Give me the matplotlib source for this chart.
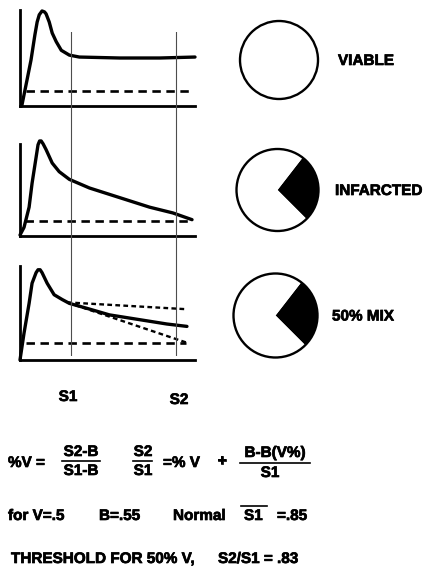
import matplotlib.pyplot as plt
import matplotlib.patheffects as pe
from matplotlib.patches import Circle

plt.rcParams['font.family'] = ['Liberation Sans', 'DejaVu Sans']
plt.rcParams['font.weight'] = 'bold'

# time of the two samples
S1_T = 2.9
S2_T = 8.9

# time-activity curves (time, signal); signal 0 = baseline, 1 = peak
viable_t = [0.1, 0.4, 0.63, 0.85, 0.98, 1.1, 1.26, 1.4, 1.49, 1.67, 1.84, 2.07, 2.36, 2.82, 3.39, 5.7, 8.0, 10.0]
viable_v = [0.0, 0.27, 0.48, 0.74, 0.875, 0.95, 0.99, 0.98, 0.96, 0.875, 0.76, 0.67, 0.58, 0.53, 0.51, 0.50, 0.50, 0.51]
viable_bg_t = [0.34, 9.9]
viable_bg_v = [0.16, 0.16]

infarct_t = [0.0, 0.23, 0.52, 0.69, 0.92, 1.03, 1.12, 1.21, 1.32, 1.49, 1.84, 2.24, 2.82, 3.97, 5.69, 7.41, 8.74, 9.83]
infarct_v = [0.01, 0.09, 0.30, 0.55, 0.82, 0.95, 0.99, 0.99, 0.96, 0.90, 0.76, 0.67, 0.59, 0.50, 0.40, 0.30, 0.24, 0.17]
infarct_bg_t = [0.29, 9.7]
infarct_bg_v = [0.16, 0.16]

mix_t = [0.0, 0.23, 0.52, 0.69, 0.92, 1.03, 1.15, 1.26, 1.55, 1.95, 2.41, 2.82, 3.79, 5.11, 6.84, 8.39, 9.54]
mix_v = [0.0, 0.28, 0.59, 0.80, 0.91, 0.94, 0.94, 0.91, 0.80, 0.68, 0.63, 0.59, 0.54, 0.47, 0.42, 0.375, 0.35]
mix_hi_t = [2.7, 9.43]
mix_hi_v = [0.60, 0.53]
mix_lo_t = [2.7, 9.54]
mix_lo_v = [0.60, 0.18]
mix_bg_t = [0.35, 9.5]
mix_bg_v = [0.18, 0.18]

axis_tops = [1.0, 0.96, 0.98]

# pie: black fraction of each myocardium circle
labels = ['VIABLE', 'INFARCTED', '50% MIX']
infarct_frac = [0.0, 0.27, 0.27]

W, H = 425, 567
fig = plt.figure(figsize=(W / 100, H / 100), dpi=100)

fs = 11
heavy = [pe.withStroke(linewidth=0.5, foreground='black')]


def px_axes(x0, y_top, x1, y_bot):
    return fig.add_axes([x0 / W, 1 - y_bot / H, (x1 - x0) / W, (y_bot - y_top) / H])


def txt(x, y, s, ha='left'):
    bg.text(x, y, s, fontsize=fs, ha=ha, va='center', path_effects=heavy)


# background axes in pixel coordinates for circles and text
bg = fig.add_axes([0, 0, 1, 1])

# -----------------------------
# curve panels
# -----------------------------
panels = [
    (10, 106, [(viable_t, viable_v, 'solid')], (viable_bg_t, viable_bg_v)),
    (140, 236, [(infarct_t, infarct_v, 'solid')], (infarct_bg_t, infarct_bg_v)),
    (264, 360, [(mix_t, mix_v, 'solid'),
                (mix_hi_t, mix_hi_v, 'dot'),
                (mix_lo_t, mix_lo_v, 'dot')], (mix_bg_t, mix_bg_v)),
]

for i, (top, bot, curves, bgline) in enumerate(panels):
    ax = px_axes(20, top, 195, bot)
    ax.set_xlim(0, 10)
    ax.set_ylim(0, 1)
    ax.patch.set_alpha(0)
    for t, v, style in curves:
        if style == 'solid':
            ax.plot(t, v, color='black', lw=2.4, solid_joinstyle='round',
                    solid_capstyle='round', clip_on=False)
        else:
            ax.plot(t, v, color='black', lw=1.7, linestyle=(0, (2, 1.4)), clip_on=False)
    ax.plot(bgline[0], bgline[1], color='black', lw=1.9, linestyle=(0, (3.2, 2.1)),
            clip_on=False)
    for s in ['top', 'right']:
        ax.spines[s].set_visible(False)
    ax.spines['left'].set_linewidth(2.0)
    ax.spines['bottom'].set_linewidth(2.0)
    ax.spines['left'].set_bounds(0, axis_tops[i])
    ax.set_xticks([])
    ax.set_yticks([])

# S1 / S2 sample lines through all panels
vax = px_axes(20, 32, 195, 356)
vax.set_xlim(0, 10)
vax.axis('off')
vax.axvline(S1_T, color='0.3', lw=0.8)
vax.axvline(S2_T, color='0.3', lw=0.8)

# -----------------------------
# circles
# -----------------------------
centers = [(279, 60, 39), (277.5, 190, 41), (275.5, 315.5, 42)]
label_x = [338, 335, 332]
for (cx, cy, r), frac, lab, lx in zip(centers, infarct_frac, labels, label_x):
    if frac > 0:
        bg.pie([frac, 1 - frac], colors=['black', 'white'], startangle=45,
               counterclock=False, center=(cx, cy), radius=r,
               wedgeprops=dict(linewidth=0), frame=True)
    bg.add_patch(Circle((cx, cy), r, facecolor='none', edgecolor='black', lw=1.7))
    txt(lx, cy + 1, lab)

bg.set_xlim(0, W)
bg.set_ylim(H, 0)
bg.set_aspect('auto')
bg.axis('off')

# -----------------------------
# text block
# -----------------------------
txt(68, 397, 'S1', ha='center')
txt(179, 400, 'S2', ha='center')


def frac_text(xc, num, den, y_num, y_bar, y_den, x0, x1):
    txt(xc, y_num, num, ha='center')
    if den:
        txt(xc, y_den, den, ha='center')
    bg.plot([x0, x1], [y_bar, y_bar], color='black', lw=1.2)


txt(8, 463, '%V =')
frac_text(81, 'S2-B', 'S1-B', 452, 461, 471, 62, 100)
frac_text(143, 'S2', 'S1', 452, 461, 471, 133, 152)
txt(163, 463, '=% V')
txt(222, 461, '+', ha='center')
frac_text(275, 'B-B(V%)', '', 453, 463, 473, 240, 310)
txt(270, 473, 'S1', ha='center')

txt(8, 516, 'for V=.5')
txt(99, 516, 'B=.55')
txt(173, 516, 'Normal')
txt(244, 516, 'S1')
bg.plot([241, 267], [506, 506], color='black', lw=1.2)
txt(277, 516, '=.85')

txt(11, 559, 'THRESHOLD FOR 50% V,')
txt(218, 559, 'S2/S1 = .83')

fig.savefig('out.png', dpi=100)
